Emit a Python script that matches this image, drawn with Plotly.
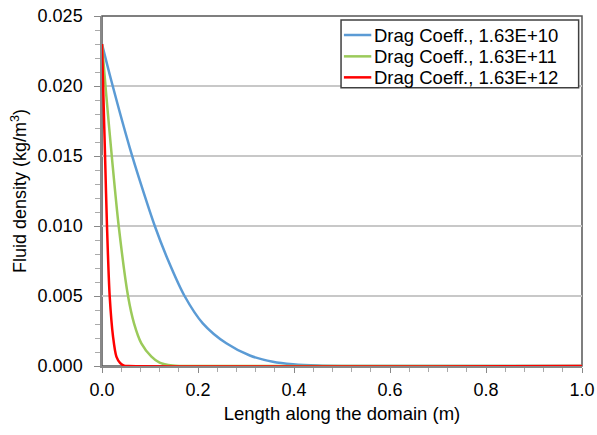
import plotly.graph_objects as go

# Data
blue_x = [0.0, 0.020, 0.0577, 0.082, 0.110, 0.1375, 0.172, 0.210, 0.259, 0.308, 0.356, 0.398, 0.450, 0.500, 1.0]
blue_y = [0.0230, 0.0203, 0.0156, 0.0129, 0.0100, 0.00757, 0.0050, 0.00305, 0.00162, 0.00075, 0.00031, 0.00013, 0.00003, 0.0, 0.0]

green_x = [0.0, 0.009, 0.0209, 0.0348, 0.0542, 0.0667, 0.082, 0.103, 0.120, 0.147, 0.165, 1.0]
green_y = [0.0230, 0.0193, 0.0148, 0.0100, 0.0050, 0.00305, 0.00162, 0.00067, 0.00024, 0.00003, 0.0, 0.0]

red_x = [0.0, 0.0030, 0.0066, 0.0104, 0.016, 0.023, 0.030, 0.038, 0.046, 0.055, 1.0]
red_y = [0.0230, 0.0192, 0.0147, 0.0100, 0.0050, 0.0021, 0.00067, 0.0002, 0.00003, 0.0, 0.0]

names = ["Drag Coeff., 1.63E+10", "Drag Coeff., 1.63E+11", "Drag Coeff., 1.63E+12"]
colors = ["#5b9bd5", "#9bca5a", "#ff0000"]

x_ticks = [0.0, 0.2, 0.4, 0.6, 0.8, 1.0]
y_ticks = [0.000, 0.005, 0.010, 0.015, 0.020, 0.025]

fig = go.Figure()
for xs, ys, nm, c in zip([blue_x, green_x, red_x], [blue_y, green_y, red_y], names, colors):
    fig.add_trace(go.Scatter(x=xs, y=ys, mode="lines", name=nm, showlegend=False,
                             line=dict(color=c, width=2.5, shape="spline", smoothing=0.8)))

font = "Liberation Sans, Arial, sans-serif"

# Legend box drawn in paper coordinates (layout/style only)
shapes = [
    dict(type="rect", xref="paper", yref="paper", x0=0, y0=0, x1=1, y1=1,
         line=dict(color="#555555", width=1.5), layer="below"),
    dict(type="rect", xref="paper", yref="paper", x0=0.498, y0=0.795, x1=0.993, y1=0.9886,
         line=dict(color="#404040", width=1.5), fillcolor="white", layer="above"),
]
annotations = []
row_y = [0.9457, 0.8847, 0.8247]
for nm, c, ry in zip(names, colors, row_y):
    shapes.append(dict(type="line", xref="paper", yref="paper", x0=0.504, x1=0.561, y0=ry, y1=ry,
                       line=dict(color=c, width=2.5), layer="above"))
    annotations.append(dict(xref="paper", yref="paper", x=0.5615, y=ry, xanchor="left", yanchor="middle",
                            text=nm, showarrow=False, font=dict(size=18.5, family=font, color="black")))

fig.update_layout(
    width=597, height=435,
    margin=dict(l=102, r=15, t=16, b=69),
    plot_bgcolor="white", paper_bgcolor="white",
    font=dict(family=font, size=18, color="black"),
    showlegend=False,
    xaxis=dict(range=[0, 1.0], tickvals=x_ticks, tickformat=".1f", automargin=False,
               showgrid=False, zeroline=False,
               showline=True, linecolor="#888888", linewidth=1.5,
               ticks="outside", ticklen=5, tickcolor="#888888", ticklabelstandoff=2,
               minor=dict(dtick=0.04, ticks="outside", ticklen=4, tickcolor="#aaaaaa", showgrid=False),
               title=dict(text="Length along the domain (m)", font=dict(size=18.5), standoff=8),
               tickfont=dict(size=18)),
    yaxis=dict(range=[0, 0.025], tickvals=y_ticks, tickformat=".3f", automargin=False,
               showgrid=True, gridcolor="#c8c8c8", gridwidth=1.5, zeroline=False,
               showline=True, linecolor="#888888", linewidth=1.5,
               ticks="outside", ticklen=6, tickcolor="#888888", ticklabelstandoff=8,
               minor=dict(dtick=0.001, ticks="outside", ticklen=5, tickcolor="#aaaaaa", showgrid=False),
               title=dict(text="Fluid density (kg/m<sup>3</sup>)", font=dict(size=18), standoff=6),
               tickfont=dict(size=18)),
    shapes=shapes,
    annotations=annotations,
)

fig.write_html("out.html")
